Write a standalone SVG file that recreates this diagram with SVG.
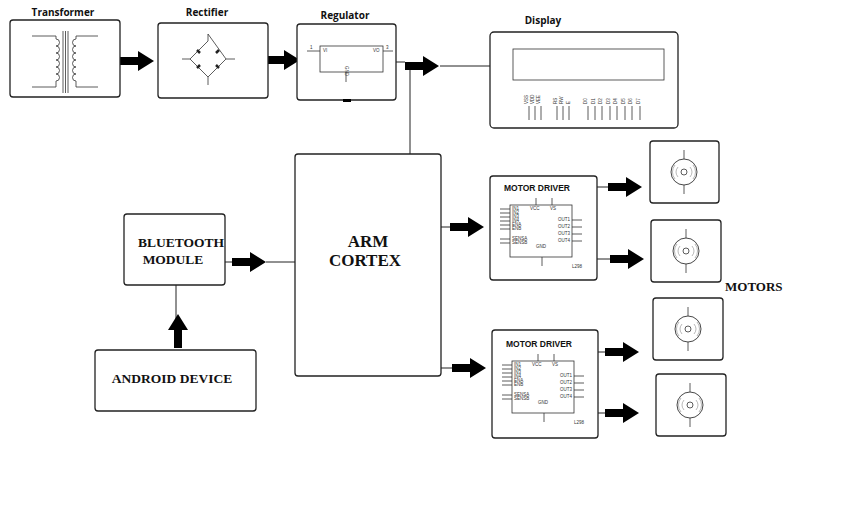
<svg xmlns="http://www.w3.org/2000/svg" width="865" height="527" viewBox="0 0 865 527">
<style>
.b{fill:#fff;stroke:#222;stroke-width:1.3}
.l{fill:none;stroke:#222;stroke-width:1}
.t{fill:none;stroke:#333;stroke-width:0.8}
.g{fill:none;stroke:#888;stroke-width:0.6}
.h{font-family:"Open Sans","Liberation Sans",sans-serif;font-weight:bold;font-size:10px;fill:#111;text-anchor:middle}
.s{font-family:"Liberation Serif",serif;font-weight:bold;fill:#111}
.p{font-family:"Liberation Sans",sans-serif;font-size:4.5px;fill:#333}
</style>
<defs>
<path id="ar" d="M0,-4 H18 V-10 L34,0 L18,10 V4 H0 Z" fill="#000"/>
<g id="motor">
<line x1="0" y1="-22" x2="0" y2="22" class="t"/>
<circle r="13" fill="#fff" stroke="#333" stroke-width="0.9"/>
<circle r="3" class="t"/>
<path d="M-6,-5 A8,8 0 0 0 -6,5 M6,-5 A8,8 0 0 1 6,5 M-9,-7 A11,11 0 0 0 -9,7 M9,-7 A11,11 0 0 1 9,7" class="g"/>
</g>
<g id="drv">
<text x="47" y="15" style="font-family:'Liberation Sans',sans-serif;font-weight:bold;font-size:8.5px;fill:#111" text-anchor="middle">MOTOR  DRIVER</text>
<rect x="20" y="29" width="62" height="52" class="t" fill="#fff"/>
<path d="M46,29 V22 M62,29 V22 M52,81 V90 M82,44 H92 M82,51 H92 M82,58 H92 M82,65 H92 M10,33 H20 M10,37 H20 M10,41 H20 M10,45 H20 M10,49 H20 M10,53 H20 M10,63 H20 M10,67 H20" class="t"/>
<text class="p" x="22" y="34">IN1</text><text class="p" x="22" y="38">IN2</text><text class="p" x="22" y="42">IN3</text><text class="p" x="22" y="46">IN4</text><text class="p" x="22" y="50">ENA</text><text class="p" x="22" y="54">ENB</text><text class="p" x="22" y="64">SENSA</text><text class="p" x="22" y="68">SENSB</text>
<text class="p" x="40" y="34">VCC</text><text class="p" x="60" y="34">VS</text><text class="p" x="46" y="72">GND</text>
<text class="p" x="68" y="45">OUT1</text><text class="p" x="68" y="52">OUT2</text><text class="p" x="68" y="59">OUT3</text><text class="p" x="68" y="66">OUT4</text>
<text class="p" x="82" y="92">L298</text>
</g>
</defs>
<g id="connectors">
<use href="#ar" x="120" y="61"/>
<use href="#ar" x="266" y="60"/>
<path d="M396,62 H405 M440,66 H490 M410,66 V154 M225,262 H232 M266,262 H295 M176,285 V322 M441,227 H450 M441,368 H452 M597,187 H608 M597,259 H610 M598,352 H605 M598,413 H605" class="l"/>
<use href="#ar" x="405" y="66"/>
<use href="#ar" x="232" y="262"/>
<use href="#ar" transform="translate(178,348) rotate(-90)"/>
<use href="#ar" x="450" y="227"/>
<use href="#ar" x="452" y="368"/>
<use href="#ar" x="608" y="187"/>
<use href="#ar" x="610" y="259"/>
<use href="#ar" x="605" y="352"/>
<use href="#ar" x="605" y="413"/>
</g>
<g id="transformer">
<text class="h" x="63" y="16">Transformer</text>
<rect class="b" x="10" y="20" width="110" height="77" rx="3"/>
<path d="M32,36 H56 M32,87 H56 M76,36 H98 M76,87 H98" class="t"/>
<path d="M56,36 V39 a3.5,3.5 0 0 1 0,7 a3.5,3.5 0 0 1 0,7 a3.5,3.5 0 0 1 0,7 a3.5,3.5 0 0 1 0,7 a3.5,3.5 0 0 1 0,7 a3.5,3.5 0 0 1 0,7 V87 M76,36 V39 a3.5,3.5 0 0 0 0,7 a3.5,3.5 0 0 0 0,7 a3.5,3.5 0 0 0 0,7 a3.5,3.5 0 0 0 0,7 a3.5,3.5 0 0 0 0,7 a3.5,3.5 0 0 0 0,7 V87" class="t"/>
<path d="M63,31 V93 M65.5,31 V93 M68,31 V93" class="t"/>
</g>
<g id="rectifier">
<text class="h" x="207" y="16">Rectifier</text>
<rect class="b" x="158" y="23" width="110" height="75" rx="3"/>
<path d="M208,34 V41 L190,59 L208,77 L226,59 Z M208,77 V85 M182,59 H190 M226,59 H235" class="t"/>
<path d="M197,50 l3,3 M219,50 l-3,3 M197,68 l3,-3 M219,68 l-3,-3" stroke="#222" stroke-width="2.5"/>
</g>
<g id="regulator">
<text class="h" x="345" y="19">Regulator</text>
<rect class="b" x="297" y="24" width="99" height="76" rx="3"/>
<rect x="320" y="46" width="63" height="26" class="t"/>
<path d="M307,51 H320 M383,51 H393 M346,72 V82" class="t"/>
<text class="p" x="323" y="52">VI</text><text class="p" x="373" y="52">VO</text><text class="p" x="310" y="49">1</text><text class="p" x="386" y="49">3</text>
<text class="p" transform="translate(345,66) rotate(90)">GND</text>
<rect x="343" y="99" width="8" height="3" fill="#000"/>
</g>
<g id="display">
<text class="h" x="543" y="24">Display</text>
<rect class="b" x="490" y="32" width="188" height="96" rx="4"/>
<rect x="513" y="49" width="151" height="31" class="t"/>
<g class="p" font-size="5">
<text transform="translate(528,104) rotate(-90)">VSS</text><text transform="translate(534,104) rotate(-90)">VDD</text><text transform="translate(540,104) rotate(-90)">VEE</text>
<text transform="translate(557,104) rotate(-90)">RS</text><text transform="translate(563,104) rotate(-90)">RW</text><text transform="translate(570,104) rotate(-90)">E</text>
<text transform="translate(587,104) rotate(-90)">D0</text><text transform="translate(595,104) rotate(-90)">D1</text><text transform="translate(602,104) rotate(-90)">D2</text><text transform="translate(610,104) rotate(-90)">D3</text><text transform="translate(617,104) rotate(-90)">D4</text><text transform="translate(625,104) rotate(-90)">D5</text><text transform="translate(632,104) rotate(-90)">D6</text><text transform="translate(640,104) rotate(-90)">D7</text>
</g>
<path d="M529,106 V120 M535,106 V120 M541,106 V120 M557,106 V120 M563,106 V120 M569,106 V120 M588,106 V120 M595,106 V120 M602,106 V120 M610,106 V120 M617,106 V120 M625,106 V120 M632,106 V120 M640,106 V120" class="t"/>
</g>
<g id="arm">
<rect class="b" x="295" y="154" width="146" height="222" rx="3"/>
<text class="s" x="368" y="247" font-size="17" text-anchor="middle">ARM</text>
<text class="s" x="365" y="266" font-size="17" text-anchor="middle">CORTEX</text>
</g>
<g id="bluetooth">
<rect class="b" x="124" y="214" width="101" height="71" rx="3"/>
<text class="s" x="181" y="247" font-size="13.5" text-anchor="middle">BLUETOOTH</text>
<text class="s" x="173" y="264" font-size="13.5" text-anchor="middle">MODULE</text>
</g>
<g id="android">
<rect class="b" x="95" y="350" width="161" height="61" rx="3"/>
<text class="s" x="172" y="383" font-size="13.5" text-anchor="middle">ANDROID DEVICE</text>
</g>
<g id="driver1">
<rect class="b" x="490" y="176" width="107" height="104" rx="3"/>
<use href="#drv" x="490" y="176"/>
</g>
<g id="driver2">
<rect class="b" x="492" y="330" width="106" height="108" rx="3"/>
<use href="#drv" x="492" y="332"/>
</g>
<g id="motor1"><rect class="b" x="650" y="141" width="69" height="62" rx="3"/><use href="#motor" x="684" y="172"/></g>
<g id="motor2"><rect class="b" x="651" y="220" width="70" height="62" rx="3"/><use href="#motor" x="686" y="251"/></g>
<g id="motor3"><rect class="b" x="653" y="298" width="70" height="62" rx="3"/><use href="#motor" x="688" y="329"/></g>
<g id="motor4"><rect class="b" x="656" y="374" width="70" height="62" rx="3"/><use href="#motor" x="690" y="405"/></g>
<text class="s" x="725" y="291" font-size="13">MOTORS</text>
</svg>
